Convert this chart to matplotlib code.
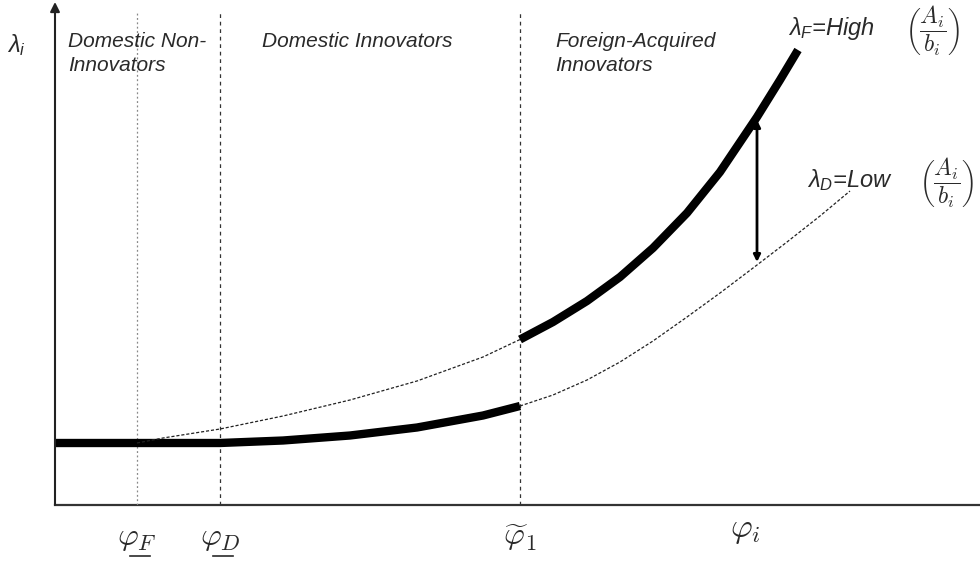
import matplotlib
matplotlib.use("Agg")
import matplotlib.pyplot as plt
import matplotlib.transforms as mtransforms
import numpy as np

plt.rcParams['mathtext.fontset'] = 'custom'
plt.rcParams['mathtext.rm'] = 'Liberation Sans'
plt.rcParams['mathtext.it'] = 'Liberation Sans:italic'

# cut-offs on the productivity axis
phi_F = 8.2
phi_D = 16.5
phi_1 = 46.5
phi_arrow = 70.2

# lambda_D (low) curve
x_low = np.array([0, 8.2, 16.5, 22.8, 29.5, 36.2, 42.8, 46.5, 49.8, 53.2,
                  56.5, 59.8, 63.2, 66.5, 70.2, 73.2, 76.5, 79.5])
y_low = np.array([6.2, 6.2, 6.2, 6.45, 6.95, 7.75, 8.95, 9.9, 11.0, 12.5,
                  14.3, 16.4, 18.8, 21.2, 24.0, 26.3, 28.9, 31.4])

# lambda_F (high) curve
x_high = np.array([8.2, 10.8, 16.5, 22.8, 29.5, 36.2, 42.8, 46.5, 49.8,
                   53.2, 56.5, 59.8, 63.2, 66.5, 70.2, 72.5, 74.3])
y_high = np.array([6.2, 6.7, 7.6, 8.9, 10.5, 12.4, 14.8, 16.55, 18.3,
                   20.4, 22.8, 25.7, 29.2, 33.3, 38.8, 42.5, 45.5])

region_labels = ["Domestic Non-\nInnovators", "Domestic Innovators",
                 "Foreign-Acquired\nInnovators"]
region_x = [1.3, 20.7, 50.0]

fig = plt.figure(figsize=(9.8, 5.61), dpi=100)
ax = fig.add_axes([55 / 980, 56 / 561, 925 / 980, 500 / 561])
ax.set_xlim(0, 92.5)
ax.set_ylim(0, 50)
for s in ax.spines.values():
    s.set_visible(False)

# axes
ax.annotate("", xy=(0, 50.3), xytext=(0, 0), annotation_clip=False,
            arrowprops=dict(arrowstyle="-|>", color="#222222", lw=1.5,
                            mutation_scale=14, shrinkA=0, shrinkB=0))
ax.plot([0, 92.5], [0, 0], color="#333333", lw=1.6, clip_on=False)

# vertical cut-off lines
ax.plot([phi_F, phi_F], [0, 49.2], color="#888888", lw=0.9, ls=(0, (1.5, 2)))
ax.plot([phi_D, phi_D], [0, 49.2], color="#333333", lw=0.9, ls=(0, (3, 3)))
ax.plot([phi_1, phi_1], [0, 49.2], color="#333333", lw=0.9, ls=(0, (3, 3)))

# curves
dash = (0, (2.5, 1.5))
m = x_low <= phi_1
ax.plot(x_low[m], y_low[m], color="black", lw=6, solid_capstyle="butt",
        solid_joinstyle="round")
ax.plot(x_low[x_low >= phi_1], y_low[x_low >= phi_1],
        color="#222222", lw=0.9, ls=dash)
m = x_high <= phi_1
ax.plot(x_high[m], y_high[m], color="#222222", lw=0.9, ls=dash)
ax.plot(x_high[x_high >= phi_1], y_high[x_high >= phi_1], color="black",
        lw=6, solid_capstyle="butt", solid_joinstyle="round")

# double arrow between the curves
ia = np.where(x_low == phi_arrow)[0][0]
ib = np.where(x_high == phi_arrow)[0][0]
ax.annotate("", xy=(phi_arrow, y_high[ib] - 0.3), xytext=(phi_arrow, y_low[ia] + 0.3),
            arrowprops=dict(arrowstyle="<|-|>", color="black", lw=2,
                            mutation_scale=10, shrinkA=0, shrinkB=0))

# texts
tc = "#2a2a2a"
for lab, xr in zip(region_labels, region_x):
    ax.text(xr, 47.3, lab, fontsize=15, style="italic", family="Liberation Sans",
            color=tc, va="top", ha="left", linespacing=1.35)

ax.text(-3.9, 46, r"$\lambda_i$", fontsize=17, color=tc, ha="center",
        va="center", math_fontfamily="custom")

ax.text(73.3, 47.7, r"$\lambda_F$=High", fontsize=17, color=tc,
        family="Liberation Sans", style="italic", ha="left", va="center",
        math_fontfamily="custom")
ax.text(85.0, 47.4, r"$\left(\dfrac{A_i}{b_i}\right)$", fontsize=17, color=tc,
        ha="left", va="center", math_fontfamily="cm")
ax.text(75.2, 32.5, r"$\lambda_D$=Low", fontsize=17, color=tc,
        family="Liberation Sans", style="italic", ha="left", va="center",
        math_fontfamily="custom")
ax.text(86.4, 32.2, r"$\left(\dfrac{A_i}{b_i}\right)$", fontsize=17, color=tc,
        ha="left", va="center", math_fontfamily="cm")

ax.set_xticks([phi_F, phi_D, phi_1])
ax.set_xticklabels([r"$\varphi_F$", r"$\varphi_D$",
                    r"$\widetilde{\varphi}_1$"], fontsize=23, color=tc)
for t in ax.get_xticklabels():
    t.set_math_fontfamily("cm")
ax.tick_params(axis="x", length=0, pad=12)
ax.set_yticks([])

# underline of the lower-bar cut-offs
base = mtransforms.blended_transform_factory(ax.transData, ax.transAxes)
for xc in [phi_F, phi_D]:
    tr = base + mtransforms.ScaledTranslation(0, -37 / 72, fig.dpi_scale_trans)
    ax.plot([xc - 0.75, xc + 1.3], [0, 0], color=tc, lw=1.2, transform=tr,
            clip_on=False)

ax.text(69.0, -2.5, r"$\varphi_i$", fontsize=24, color=tc, ha="center",
        va="center", math_fontfamily="cm")

fig.savefig("out.png", dpi=100)
